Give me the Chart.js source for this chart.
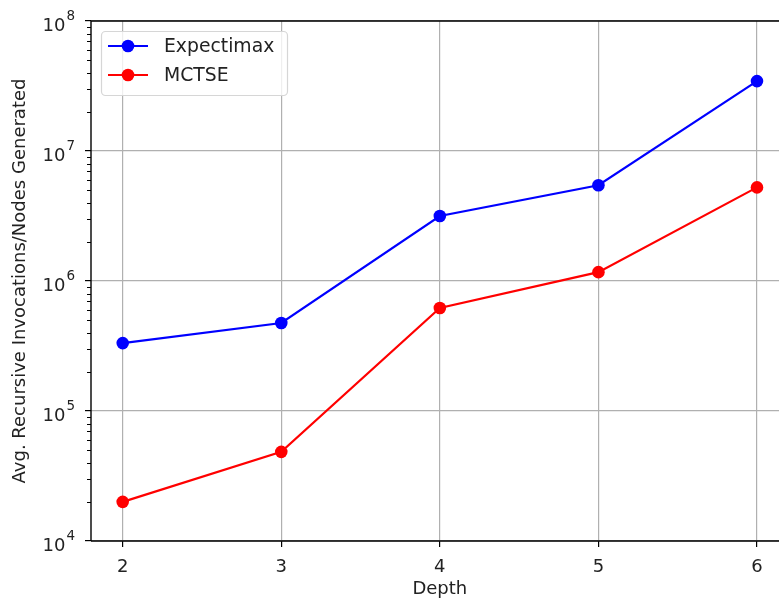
<!DOCTYPE html>
<html>
<head>
<meta charset="utf-8">
<script src="https://cdn.jsdelivr.net/npm/chart.js@4/dist/chart.umd.min.js"></script>
<style>
  html, body { margin: 0; padding: 0; background: #fff; overflow: hidden; }
  #wrap { width: 795px; height: 600px; }
</style>
</head>
<body>
<div id="wrap"><canvas id="c" width="795" height="600"></canvas></div>
<script>
// Search depth on the x axis
const depths = [2, 3, 4, 5, 6];
// Average recursive invocations / nodes generated per move
const expectimax = [3.33e5, 4.75e5, 3.16e6, 5.45e6, 3.45e7];
const mctse = [2.0e4, 4.85e4, 6.2e5, 1.17e6, 5.25e6];
const seriesNames = ['Expectimax', 'MCTSE'];
const yDecades = [1e4, 1e5, 1e6, 1e7, 1e8];

const FONT = "'DejaVu Sans', sans-serif";
const TEXT = '#222';

function toPoints(vals) {
  return depths.map((d, i) => ({ x: d, y: vals[i] }));
}

// Y axis: "10" with a raised exponent, plus minor log ticks (2..9 per decade)
const logAxisDecor = {
  id: 'logAxisDecor',
  afterDraw(chart) {
    const y = chart.scales.y;
    const ctx = chart.ctx;
    const left = chart.chartArea.left;
    ctx.save();
    ctx.strokeStyle = '#000';
    ctx.lineWidth = 1;
    for (let d = 0; d < yDecades.length - 1; d++) {
      for (let m = 2; m <= 9; m++) {
        const py = Math.round(y.getPixelForValue(yDecades[d] * m)) + 0.5;
        ctx.beginPath();
        ctx.moveTo(left - 4, py);
        ctx.lineTo(left, py);
        ctx.stroke();
      }
    }
    ctx.fillStyle = TEXT;
    ctx.textBaseline = 'alphabetic';
    yDecades.forEach(v => {
      const py = y.getPixelForValue(v);
      const exp = String(Math.round(Math.log10(v)));
      ctx.font = '13.5px ' + FONT;
      const ew = ctx.measureText(exp).width;
      const rightEdge = left - 16;
      ctx.textAlign = 'right';
      ctx.fillText(exp, rightEdge, py - 1);
      ctx.font = '18px ' + FONT;
      ctx.fillText('10', rightEdge - ew - 1, py + 10);
    });
    ctx.restore();
  }
};

// Axis spines (left, bottom, top)
const frame = {
  id: 'frame',
  afterDatasetsDraw(chart) {
    const { left, right, top, bottom } = chart.chartArea;
    const ctx = chart.ctx;
    ctx.save();
    ctx.strokeStyle = '#000';
    ctx.lineWidth = 1.4;
    ctx.beginPath();
    ctx.moveTo(left, top);
    ctx.lineTo(left, bottom);
    ctx.moveTo(left, bottom);
    ctx.lineTo(right, bottom);
    ctx.moveTo(left, top);
    ctx.lineTo(right, top);
    ctx.stroke();
    ctx.restore();
  }
};

// Framed legend with line + marker samples
const boxLegend = {
  id: 'boxLegend',
  afterDraw(chart) {
    const ctx = chart.ctx;
    const x0 = 101, y0 = 31, w = 186, h = 64;
    ctx.save();
    ctx.fillStyle = 'rgba(255,255,255,0.8)';
    ctx.strokeStyle = '#d6d6d6';
    ctx.lineWidth = 1.2;
    ctx.beginPath();
    ctx.roundRect(x0 + 0.5, y0 + 0.5, w, h, 4);
    ctx.fill();
    ctx.stroke();
    const rows = [46, 75];
    chart.data.datasets.forEach((ds, i) => {
      const ry = rows[i];
      ctx.strokeStyle = ds.borderColor;
      ctx.lineWidth = 2.2;
      ctx.beginPath();
      ctx.moveTo(108, ry);
      ctx.lineTo(148, ry);
      ctx.stroke();
      ctx.fillStyle = ds.borderColor;
      ctx.beginPath();
      ctx.arc(128, ry, 6.3, 0, Math.PI * 2);
      ctx.fill();
      ctx.fillStyle = TEXT;
      ctx.font = '18.8px ' + FONT;
      ctx.textBaseline = 'middle';
      ctx.textAlign = 'left';
      ctx.fillText(ds.label, 164, ry + 1);
    });
    ctx.restore();
  }
};

const makeDs = (label, vals, color) => ({
  label,
  data: toPoints(vals),
  borderColor: color,
  backgroundColor: color,
  borderWidth: 2.2,
  pointRadius: 6.3,
  pointHoverRadius: 6.3,
  pointBorderWidth: 0,
  tension: 0,
  clip: false
});

new Chart(document.getElementById('c'), {
  type: 'line',
  data: {
    datasets: [
      makeDs(seriesNames[0], expectimax, '#0000ff'),
      makeDs(seriesNames[1], mctse, '#ff0000')
    ]
  },
  options: {
    responsive: false,
    animation: false,
    devicePixelRatio: 1,
    layout: { padding: { top: 21, right: 0, left: 0, bottom: 0 } },
    plugins: { legend: { display: false }, tooltip: { enabled: false } },
    scales: {
      x: {
        type: 'linear',
        min: 1.8,
        max: 6.2,
        afterBuildTicks(scale) { scale.ticks = depths.map(v => ({ value: v })); },
        afterFit(scale) { scale.height = 59; },
        border: { display: false },
        grid: { color: '#b0b0b0', lineWidth: 1.2, tickColor: '#000', tickLength: 6 },
        ticks: {
          color: TEXT,
          font: { family: FONT, size: 18 },
          padding: 10,
          maxRotation: 0,
          callback: v => String(v)
        },
        title: {
          display: true,
          text: 'Depth',
          color: TEXT,
          font: { family: FONT, size: 18 },
          padding: { top: 0, bottom: 0 }
        }
      },
      y: {
        type: 'logarithmic',
        min: 1e4,
        max: 1e8,
        afterBuildTicks(scale) { scale.ticks = yDecades.map(v => ({ value: v })); },
        afterFit(scale) { scale.width = 91; },
        border: { display: false },
        grid: { color: '#b0b0b0', lineWidth: 1.2, tickColor: '#000', tickLength: 6 },
        ticks: {
          display: true,
          color: 'rgba(0,0,0,0)',
          font: { family: FONT, size: 18 },
          padding: 4,
          callback: v => ''
        },
        title: {
          display: true,
          text: 'Avg. Recursive Invocations/Nodes Generated',
          color: TEXT,
          font: { family: FONT, size: 18 },
          padding: { top: 10, bottom: 0 }
        }
      }
    }
  },
  plugins: [logAxisDecor, frame, boxLegend]
});
</script>
</body>
</html>
